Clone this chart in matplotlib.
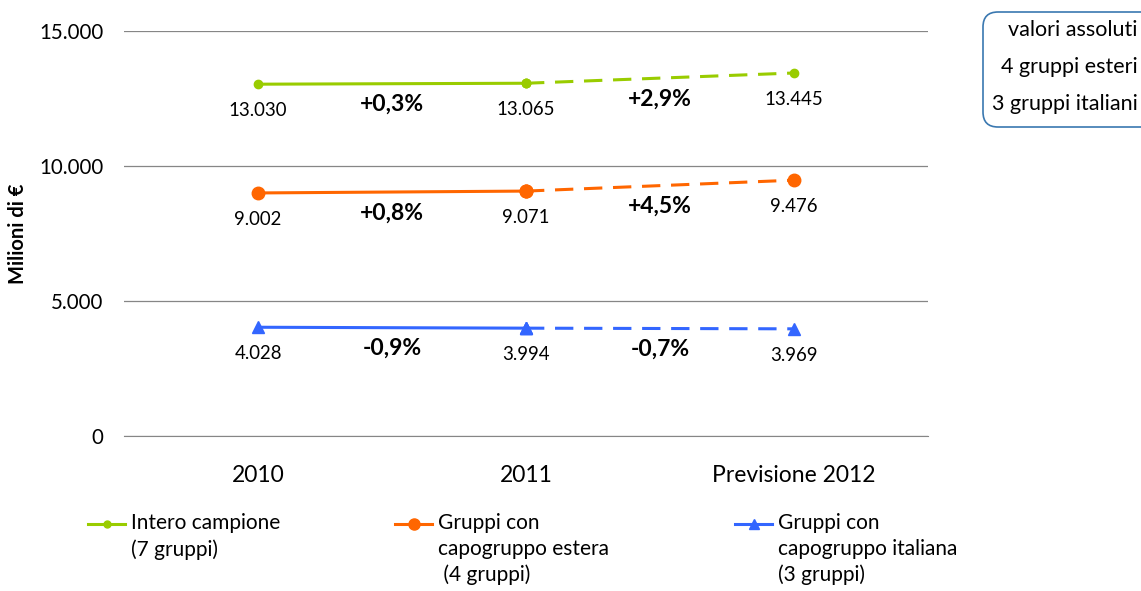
import matplotlib.pyplot as plt
import numpy as np
from matplotlib.lines import Line2D
from matplotlib.patches import FancyBboxPatch

plt.rcParams['font.family'] = ['Lato', 'DejaVu Sans']

# data
categories = ["2010", "2011", "Previsione 2012"]
intero = [13030, 13065, 13445]
estera = [9002, 9071, 9476]
italiana = [4028, 3994, 3969]
pct_intero = ["+0,3%", "+2,9%"]
pct_estera = ["+0,8%", "+4,5%"]
pct_italiana = ["-0,9%", "-0,7%"]
val_labels = {
    "intero": ["13.030", "13.065", "13.445"],
    "estera": ["9.002", "9.071", "9.476"],
    "italiana": ["4.028", "3.994", "3.969"],
}
yticks = [0, 5000, 10000, 15000]
ytick_labels = ["0", "5.000", "10.000", "15.000"]

green = "#99cc00"
orange = "#ff6600"
blue = "#3366ff"

W, H = 1141, 591
fig = plt.figure(figsize=(W / 100, H / 100), dpi=100)
ax = fig.add_axes([124 / W, 1 - 436 / H, 804 / W, 405 / H])

x = np.arange(len(categories))

series = [
    (intero, green, "o", 6, pct_intero, val_labels["intero"]),
    (estera, orange, "o", 9, pct_estera, val_labels["estera"]),
    (italiana, blue, "^", 8, pct_italiana, val_labels["italiana"]),
]

for vals, col, mk, ms, pcts, labs in series:
    ax.plot(x[:2], vals[:2], color=col, lw=2.2, marker=mk, ms=ms, zorder=3)
    ax.plot(x[1:], vals[1:], color=col, lw=2.2, ls=(0, (6, 3.5)), marker=mk,
            ms=ms, zorder=3)
    ax.plot(x[1], vals[1], color=col, marker=mk, ms=ms, zorder=4)
    for i in range(3):
        ax.annotate(labs[i], (x[i], vals[i]), xytext=(0, -19), textcoords="offset points",
                    ha="center", va="center", fontsize=13.4)
    for i in range(2):
        ym = (vals[i] + vals[i + 1]) / 2
        ax.annotate(pcts[i], ((x[i] + x[i + 1]) / 2, ym), xytext=(0, -15),
                    textcoords="offset points", ha="center", va="center",
                    fontsize=16.5, fontweight="bold")

ax.set_xlim(-0.5, 2.5)
ax.set_ylim(0, 15000)
ax.set_yticks(yticks)
ax.set_yticklabels(ytick_labels, fontsize=14.8)
ax.set_xticks(x)
ax.set_xticklabels(categories, fontsize=16.5)
ax.tick_params(axis="x", length=0, pad=21)
ax.tick_params(axis="y", length=0, pad=15)
ax.yaxis.grid(True, color="#868686", lw=0.9)
ax.set_axisbelow(True)
for s in ["top", "right", "left"]:
    ax.spines[s].set_visible(False)
ax.spines["bottom"].set_color("#868686")
ax.set_ylabel("Milioni di €", fontsize=14.5, fontweight="bold", va="center")
ax.yaxis.set_label_coords((18 - 124) / 804, 0.5)

# box top right (inch coordinates)
box = FancyBboxPatch((9.83, (H - 127) / 100), 1.8, 1.15,
                     boxstyle="round,pad=0,rounding_size=0.15",
                     transform=fig.dpi_scale_trans, facecolor="white",
                     edgecolor="#3a78b0", lw=1.2, clip_on=False)
fig.add_artist(box)
for txt, yy in [("valori assoluti", 30), ("4 gruppi esteri", 67), ("3 gruppi italiani", 104)]:
    fig.text(1138 / W, 1 - yy / H, txt, ha="right", va="center", fontsize=15.5)

# legend
leg = [
    (green, "o", 5, 88, "Intero campione\n(7 gruppi)"),
    (orange, "o", 8, 395, "Gruppi con\ncapogruppo estera\n (4 gruppi)"),
    (blue, "^", 7, 735, "Gruppi con\ncapogruppo italiana\n(3 gruppi)"),
]
for col, mk, ms, x0, lab in leg:
    yy = 1 - 524 / H
    fig.add_artist(Line2D([x0 / W, (x0 + 37) / W], [yy, yy], color=col, lw=2.2,
                          transform=fig.transFigure))
    fig.add_artist(Line2D([(x0 + 18.5) / W], [yy], color=col, marker=mk, ms=ms,
                          transform=fig.transFigure))
    fig.text((x0 + 43) / W, 1 - 513 / H, lab, ha="left", va="top", fontsize=15,
             linespacing=1.36)

fig.savefig("out.png", dpi=100)
